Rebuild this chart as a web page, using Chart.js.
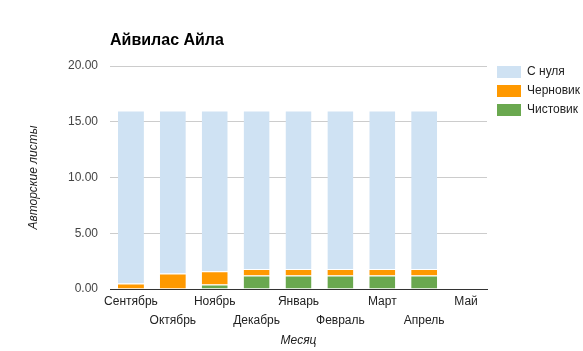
<!DOCTYPE html>
<html lang="ru">
<head>
    <meta charset="UTF-8">
    <title>Айвилас Айла</title>
    <script src="https://cdn.jsdelivr.net/npm/chart.js"></script>
    <style>
        body {
            margin: 0;
            background: #fff;
        }
        .chart-box {
            position: relative;
            width: 583px;
            height: 351px;
        }
    </style>
</head>
<body>
<div class="chart-box">
    <canvas id="bookChart"></canvas>
</div>

<script>
    const months = ['Сентябрь', 'Октябрь', 'Ноябрь', 'Декабрь', 'Январь', 'Февраль', 'Март', 'Апрель', 'Май'];
    const clean = [0, 0, 0.4, 1.2, 1.2, 1.2, 1.2, 1.2, 0];
    const draft = [0.5, 1.4, 1.2, 0.6, 0.6, 0.6, 0.6, 0.6, 0];
    const fromScratch = [15.5, 14.6, 14.4, 14.2, 14.2, 14.2, 14.2, 14.2, 0];
    const yTicks = [0, 5, 10, 15, 20];

    const FONT = 'Arial, "Liberation Sans", sans-serif';

    // title over the plot area, left aligned like google charts
    const titlePlugin = {
        id: 'leftTitle',
        afterDraw(chart) {
            const ctx = chart.ctx;
            ctx.save();
            ctx.font = 'bold 16px ' + FONT;
            ctx.fillStyle = '#000';
            ctx.textBaseline = 'middle';
            ctx.textAlign = 'left';
            ctx.fillText('Айвилас Айла', chart.chartArea.left, 41);
            ctx.restore();
        }
    };

    // legend on the right, top aligned
    const legendPlugin = {
        id: 'sideLegend',
        afterDraw(chart) {
            const ctx = chart.ctx;
            const x = chart.chartArea.right + 10;
            let y = 72;
            ctx.save();
            ctx.font = '12px ' + FONT;
            ctx.textBaseline = 'middle';
            ctx.textAlign = 'left';
            const sets = chart.data.datasets.slice().reverse();
            sets.forEach(ds => {
                ctx.fillStyle = ds.backgroundColor;
                ctx.fillRect(x, y - 6, 24, 12);
                ctx.fillStyle = '#222';
                ctx.fillText(ds.label, x + 30, y);
                y += 19;
            });
            ctx.restore();
        }
    };

    new Chart(document.getElementById('bookChart'), {
        type: 'bar',
        data: {
            labels: months,
            datasets: [
                {
                    label: 'Чистовик',
                    data: clean,
                    backgroundColor: '#6aa84f',
                    borderColor: '#fff',
                    borderWidth: {top: 1, left: 0, right: 0, bottom: 0},
                    borderSkipped: false
                },
                {
                    label: 'Черновик',
                    data: draft,
                    backgroundColor: '#ff9900',
                    borderColor: '#fff',
                    borderWidth: {top: 1, left: 0, right: 0, bottom: 0},
                    borderSkipped: false
                },
                {
                    label: 'С нуля',
                    data: fromScratch,
                    backgroundColor: '#cfe2f3',
                    borderColor: '#fff',
                    borderWidth: {top: 1, left: 0, right: 0, bottom: 0},
                    borderSkipped: false
                }
            ]
        },
        options: {
            responsive: true,
            maintainAspectRatio: false,
            animation: false,
            layout: {
                padding: {left: 0, right: 96, top: 66, bottom: 0}
            },
            datasets: {
                bar: {
                    categoryPercentage: 1,
                    barPercentage: 0.62
                }
            },
            plugins: {
                legend: {display: false},
                title: {display: false},
                tooltip: {enabled: false}
            },
            scales: {
                x: {
                    stacked: true,
                    grid: {display: false},
                    border: {display: true, color: '#333', width: 1},
                    ticks: {
                        autoSkip: false,
                        maxRotation: 0,
                        minRotation: 0,
                        padding: -5,
                        color: '#222',
                        font: {family: FONT, size: 12, lineHeight: 1.6},
                        callback: function (value, index) {
                            const name = months[index];
                            return index % 2 === 1 ? ['', name] : name;
                        }
                    },
                    title: {
                        display: true,
                        text: 'Месяц',
                        color: '#222',
                        font: {family: FONT, size: 12, style: 'italic'},
                        padding: {top: 0, bottom: 3}
                    },
                    afterFit(scale) {
                        scale.height = 62;
                    }
                },
                y: {
                    stacked: true,
                    min: 0,
                    max: 20,
                    afterBuildTicks(scale) {
                        scale.ticks = yTicks.map(v => ({value: v}));
                    },
                    grid: {color: '#ccc', drawTicks: false},
                    border: {display: false},
                    ticks: {
                        padding: 12,
                        color: '#444',
                        font: {family: FONT, size: 12},
                        callback: v => Number(v).toFixed(2)
                    },
                    title: {
                        display: true,
                        text: 'Авторские листы',
                        color: '#222',
                        font: {family: FONT, size: 12, style: 'italic'},
                        padding: {top: 26, bottom: 0}
                    },
                    afterFit(scale) {
                        scale.width = 110;
                    }
                }
            }
        },
        plugins: [titlePlugin, legendPlugin]
    });
</script>
</body>
</html>
